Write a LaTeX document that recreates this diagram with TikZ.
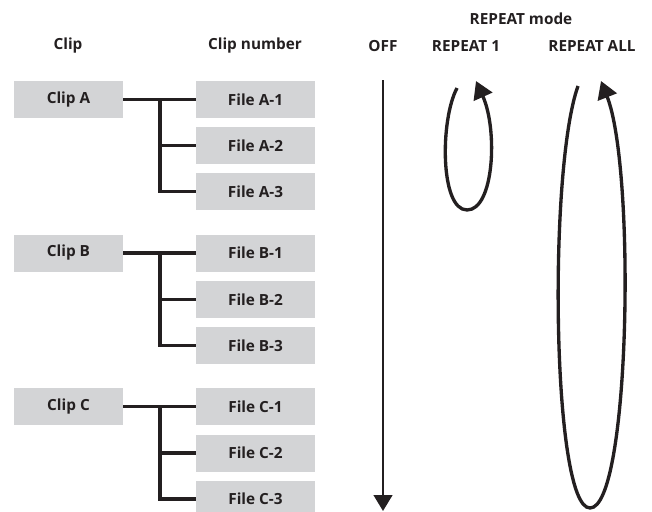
\documentclass[tikz,border=0pt]{standalone}
\usepackage{fontspec}
\setmainfont{Open Sans}
\usepackage{tikz}
\usetikzlibrary{arrows.meta,positioning}

\definecolor{boxgray}{RGB}{211,212,214}
\definecolor{inkdark}{RGB}{35,31,32}

\begin{document}
\begin{tikzpicture}[x=0.75pt,y=0.75pt,yscale=-1,xscale=1,
  every node/.style={font=\fontsize{11.5}{13}\selectfont\bfseries, text=inkdark},
  clipbox/.style={fill=boxgray, minimum width=81.75pt, minimum height=27.75pt, inner sep=0pt},
  filebox/.style={fill=boxgray, minimum width=89.25pt, minimum height=27.75pt, inner sep=0pt},
  tree/.style={draw=inkdark, line width=2.4pt},
  loop/.style={draw=inkdark, line width=2.5pt, -{Triangle[length=13pt,width=15pt]}}]
\useasboundingbox (0,0) rectangle (652,511);

% Headings
\node (hclip) at (68,46) {Clip};
\node (hnum) at (255,46) {Clip number};
\node (hoff) at (383,46) {OFF};
\node (hrep1) at (466,46) {REPEAT 1};
\node (hrepall) at (592,46) {REPEAT ALL};
\node (hmode) at (521,19) {REPEAT mode};

% Clip A
\node[clipbox] (clipA) at (68.5,99.5) {Clip A};
\node[filebox] (fileA1) at (255.5,99.5) {File A-1};
\node[filebox] (fileA2) at (255.5,145.5) {File A-2};
\node[filebox] (fileA3) at (255.5,191.5) {File A-3};
\coordinate (jA) at (160,99.5);
\draw[tree] (clipA.east) -- (fileA1.west);
\draw[tree] (jA) |- (fileA3.west);
\draw[tree] (jA |- fileA2.west) -- (fileA2.west);

% Clip B
\node[clipbox] (clipB) at (68.5,253) {Clip B};
\node[filebox] (fileB1) at (255.5,253) {File B-1};
\node[filebox] (fileB2) at (255.5,299.5) {File B-2};
\node[filebox] (fileB3) at (255.5,345.5) {File B-3};
\coordinate (jB) at (160,253);
\draw[tree] (clipB.east) -- (fileB1.west);
\draw[tree] (jB) |- (fileB3.west);
\draw[tree] (jB |- fileB2.west) -- (fileB2.west);

% Clip C
\node[clipbox] (clipC) at (68.5,406.5) {Clip C};
\node[filebox] (fileC1) at (255.5,406.5) {File C-1};
\node[filebox] (fileC2) at (255.5,453) {File C-2};
\node[filebox] (fileC3) at (255.5,499) {File C-3};
\coordinate (jC) at (160,406.5);
\draw[tree] (clipC.east) -- (fileC1.west);
\draw[tree] (jC) |- (fileC3.west);
\draw[tree] (jC |- fileC2.west) -- (fileC2.west);

% OFF
\coordinate (offtop) at (383,80);
\coordinate (offend) at (383,511);
\draw[draw=inkdark, line width=1.8pt, -{Triangle[length=12pt,width=14pt]}] (offtop) -- (offend);

% REPEAT 1
\coordinate (oneA) at (457,88);
\coordinate (oneB) at (467,210);
\coordinate (oneC) at (476,81);
\draw[loop] (oneA) .. controls (440,120) and (440,210) .. (oneB)
  .. controls (494,210) and (498,130) .. (oneC);

% REPEAT ALL
\coordinate (allA) at (578,86);
\coordinate (allB) at (590,508);
\coordinate (allC) at (601,81);
\draw[loop] (allA) .. controls (548,170) and (552,508) .. (allB)
  .. controls (630,508) and (636,170) .. (allC);

\end{tikzpicture}
\end{document}
